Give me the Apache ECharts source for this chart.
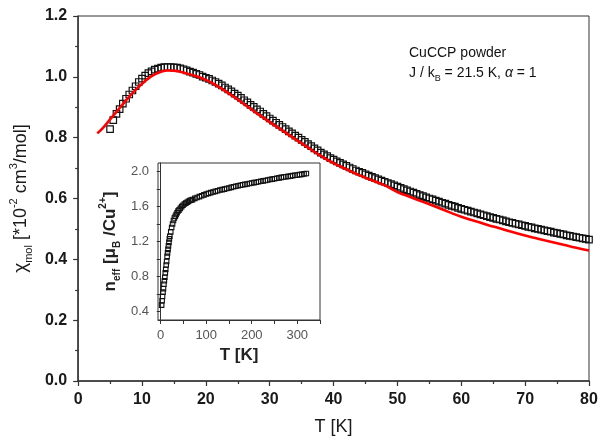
<!DOCTYPE html>
<html>
<head>
<meta charset="utf-8">
<script src="https://cdn.jsdelivr.net/npm/echarts@6/dist/echarts.min.js"></script>
<style>html,body{margin:0;padding:0;background:#fff;}#c{width:601px;height:441px;}</style>
</head>
<body>
<div id="c"></div>
<script>
// Main plot: measured chi_mol (squares)
var sqT = [5.0,5.5,6.0,6.5,7.0,7.5,8.0,8.5,9.0,9.5,10.0,10.5,11.0,11.5,12.0,12.5,13.0,13.5,14.0,14.5,15.0,15.5,16.0,16.5,17.0,17.5,18.0,18.5,19.0,19.5,20.0,20.5,21.0,21.5,22.0,22.5,23.0,23.5,24.0,24.5,25.0,25.5,26.0,26.5,27.0,27.5,28.0,28.5,29.0,29.5,30.0,30.5,31.0,31.5,32.0,32.5,33.0,33.5,34.0,34.5,35.0,35.5,36.0,36.5,37.0,37.5,38.0,38.5,39.0,39.5,40.0,40.5,41.0,41.5,42.0,42.5,43.0,43.5,44.0,44.5,45.0,45.5,46.0,46.5,47.0,47.5,48.0,48.5,49.0,49.5,50.0,50.5,51.0,51.5,52.0,52.5,53.0,53.5,54.0,54.5,55.0,55.5,56.0,56.5,57.0,57.5,58.0,58.5,59.0,59.5,60.0,60.5,61.0,61.5,62.0,62.5,63.0,63.5,64.0,64.5,65.0,65.5,66.0,66.5,67.0,67.5,68.0,68.5,69.0,69.5,70.0,70.5,71.0,71.5,72.0,72.5,73.0,73.5,74.0,74.5,75.0,75.5,76.0,76.5,77.0,77.5,78.0,78.5,79.0,79.5,80.0];
var sqChi = [0.828,0.858,0.878,0.894,0.912,0.928,0.942,0.955,0.969,0.983,0.994,1.004,1.012,1.018,1.024,1.027,1.030,1.032,1.032,1.032,1.031,1.030,1.028,1.025,1.021,1.017,1.014,1.010,1.006,1.001,0.997,0.993,0.988,0.983,0.978,0.972,0.965,0.959,0.952,0.945,0.938,0.931,0.923,0.916,0.908,0.901,0.893,0.886,0.878,0.871,0.863,0.856,0.849,0.842,0.835,0.828,0.821,0.814,0.807,0.800,0.793,0.786,0.779,0.772,0.765,0.758,0.751,0.745,0.739,0.733,0.728,0.722,0.717,0.712,0.707,0.702,0.697,0.692,0.688,0.684,0.679,0.675,0.671,0.667,0.663,0.659,0.655,0.651,0.647,0.643,0.639,0.635,0.631,0.627,0.623,0.619,0.615,0.611,0.608,0.604,0.600,0.597,0.593,0.590,0.586,0.583,0.579,0.576,0.573,0.569,0.566,0.563,0.560,0.557,0.554,0.551,0.548,0.545,0.542,0.539,0.536,0.533,0.531,0.528,0.525,0.522,0.520,0.517,0.515,0.512,0.510,0.507,0.505,0.502,0.500,0.498,0.495,0.493,0.491,0.488,0.486,0.484,0.482,0.479,0.477,0.475,0.473,0.471,0.469,0.467,0.465];

// Main plot: fit (red line)
var fitT = [3,4,5,6,7,8,9,10,11,12,13,14,15,16,18,20,22,24,26,28,30,32,34,36,38,40,42,44,46,48,50,52,54,56,58,60,62,64,66,68,70,72,74,76,78,80];
var fitChi = [0.814,0.835,0.860,0.885,0.910,0.935,0.957,0.977,0.995,1.008,1.017,1.021,1.020,1.017,1.005,0.990,0.967,0.940,0.910,0.880,0.851,0.823,0.795,0.767,0.740,0.716,0.696,0.677,0.660,0.643,0.621,0.605,0.589,0.573,0.556,0.540,0.527,0.514,0.502,0.490,0.478,0.468,0.458,0.448,0.438,0.429];

// Inset: n_eff vs T
var inT = [2,3,4,5,6,7,8,9,10,11,12,13,14,15,16,17,18,19,20,22,24,26,28,30,32,34,36,38,40,43,46,49,52,55,58,61,64,67,70,75,80,85,90,95,100,105,110,115,120,125,130,135,140,145,150,155,160,165,170,175,180,185,190,195,200,205,210,215,220,225,230,235,240,245,250,255,260,265,270,275,280,285,290,295,300,305,310,315,320];
var inN = [0.47,0.52,0.57,0.62,0.66,0.71,0.75,0.79,0.84,0.88,0.93,0.97,1.03,1.07,1.11,1.15,1.19,1.23,1.26,1.31,1.36,1.40,1.44,1.47,1.49,1.51,1.53,1.55,1.56,1.58,1.60,1.615,1.63,1.64,1.65,1.66,1.67,1.675,1.68,1.695,1.705,1.715,1.725,1.735,1.745,1.752,1.76,1.767,1.775,1.782,1.79,1.795,1.80,1.807,1.813,1.82,1.827,1.833,1.84,1.845,1.85,1.855,1.86,1.865,1.87,1.875,1.88,1.885,1.89,1.895,1.90,1.905,1.91,1.915,1.92,1.925,1.93,1.935,1.94,1.943,1.947,1.95,1.955,1.96,1.963,1.967,1.97,1.975,1.98];

// Tick labels
var mainXTicks = [0,10,20,30,40,50,60,70,80];
var mainYTicks = [0.0,0.2,0.4,0.6,0.8,1.0,1.2];
var insetXLabels = [0,100,200,300];
var insetXTicks = [0,50,100,150,200,250,300,350];
var insetYLabels = [0.4,0.8,1.2,1.6,2.0];
var insetYTicks = [0.4,0.6,0.8,1.0,1.2,1.4,1.6,1.8,2.0];

function zip(a,b){var r=[];for(var i=0;i<a.length;i++){r.push([a[i],b[i]]);}return r;}

var FF = 'Liberation Sans, Arial, sans-serif';
var chart = echarts.init(document.getElementById('c'), null, {renderer:'canvas'});
var option = {
  backgroundColor:'#fff',
  animation:false,
  grid:[
    {left:78, top:16, right:12, bottom:58, show:true, borderColor:'#333', borderWidth:1, backgroundColor:'transparent', containLabel:false},
    {left:158, top:163, width:162, height:157, show:true, borderColor:'#333', borderWidth:1, backgroundColor:'#fff', containLabel:false, z:3}
  ],
  xAxis:[
    {gridIndex:0, type:'value', min:mainXTicks[0], max:mainXTicks[mainXTicks.length-1], interval:10,
     splitLine:{show:false},
     axisLine:{lineStyle:{color:'#333', width:1.5}},
     axisTick:{length:5, lineStyle:{color:'#333', width:1.2}},
     minorTick:{show:true, splitNumber:2, length:3, lineStyle:{color:'#333', width:1.2}},
     axisLabel:{fontFamily:FF, fontSize:16, fontWeight:'bold', color:'#1a1a1a', margin:11},
     name:'T [K]', nameLocation:'middle', nameGap:37,
     nameTextStyle:{fontFamily:FF, fontSize:18, color:'#1a1a1a'}
    },
    {gridIndex:1, type:'value', min:-6, max:350, z:4,
     splitLine:{show:false},
     axisLine:{lineStyle:{color:'#333', width:1}},
     axisTick:{length:4, customValues:insetXTicks, lineStyle:{color:'#333'}},
     axisLabel:{customValues:insetXLabels, fontFamily:FF, fontSize:13, color:'#555', margin:9},
     name:'T [K]', nameLocation:'middle', nameGap:27,
     nameTextStyle:{fontFamily:FF, fontSize:17, fontWeight:'bold', color:'#222'}
    }
  ],
  yAxis:[
    {gridIndex:0, type:'value', min:mainYTicks[0], max:mainYTicks[mainYTicks.length-1], interval:0.2,
     splitLine:{show:false},
     axisLine:{show:true, lineStyle:{color:'#333', width:1.5}},
     axisTick:{show:true, length:5, lineStyle:{color:'#333', width:1.2}},
     minorTick:{show:true, splitNumber:2, length:3, lineStyle:{color:'#333', width:1.2}},
     axisLabel:{fontFamily:FF, fontSize:16, fontWeight:'bold', color:'#1a1a1a', margin:11,
       formatter:function(v){return v.toFixed(1);}},
     name:'{g|χ}{sub|mol}{n| [*10}{sup|-2}{n| cm}{sup|3}{n|/mol]}', nameLocation:'middle', nameGap:42, nameRotate:90,
     nameTextStyle:{fontFamily:FF, fontSize:18, color:'#1a1a1a',
       rich:{
         g:{fontFamily:FF, fontSize:19, color:'#1a1a1a', lineHeight:26, verticalAlign:'middle'},
         n:{fontFamily:FF, fontSize:18, color:'#1a1a1a', lineHeight:26, verticalAlign:'middle'},
         sub:{fontFamily:FF, fontSize:11, color:'#1a1a1a', verticalAlign:'bottom', lineHeight:26},
         sup:{fontFamily:FF, fontSize:11, color:'#1a1a1a', verticalAlign:'top', lineHeight:26}
       }}
    },
    {gridIndex:1, type:'value', min:0.3, max:2.1, z:4,
     splitLine:{show:false},
     axisLine:{show:true, lineStyle:{color:'#333', width:1}},
     axisTick:{show:true, length:4, customValues:insetYTicks, lineStyle:{color:'#333'}},
     axisLabel:{customValues:insetYLabels, fontFamily:FF, fontSize:13, color:'#555', margin:9,
       formatter:function(v){return v.toFixed(1);}},
     name:'n{sub|eff} [μ{sub|B} /Cu{sup|2+}]', nameLocation:'middle', nameGap:36, nameRotate:90,
     nameTextStyle:{fontFamily:FF, fontSize:17, fontWeight:'bold', color:'#222',
       rich:{
         sub:{fontFamily:FF, fontSize:10, color:'#222', verticalAlign:'bottom', lineHeight:24},
         sup:{fontFamily:FF, fontSize:10, color:'#222', verticalAlign:'top', lineHeight:24}
       }}
    }
  ],
  series:[
    {type:'scatter', xAxisIndex:0, yAxisIndex:0, data:zip(sqT, sqChi), symbol:'rect', symbolSize:6.5,
     itemStyle:{color:'rgba(255,255,255,0)', borderColor:'#111', borderWidth:1.2, opacity:1}, z:2},
    {type:'line', xAxisIndex:0, yAxisIndex:0, data:zip(fitT, fitChi), smooth:true, showSymbol:false,
     lineStyle:{color:'#ff0000', width:2.6}, z:3},
    {type:'scatter', xAxisIndex:1, yAxisIndex:1, data:zip(inT, inN), symbol:'rect', symbolSize:4.5,
     itemStyle:{color:'rgba(255,255,255,0)', borderColor:'#111', borderWidth:1.1, opacity:1}, z:5}
  ],
  graphic:[
    {type:'text', left:409, top:46, z:10,
     style:{
       text:'{a|CuCCP powder}\n{a|J / k}{s|B}{a| = 21.5 K, }{i|α}{a| = 1}',
       fontFamily:FF, fontSize:14, fill:'#111',
       rich:{
         a:{fontFamily:FF, fontSize:14, fill:'#111', lineHeight:20},
         i:{fontFamily:FF, fontSize:14, fontStyle:'italic', fill:'#111', lineHeight:20},
         s:{fontFamily:FF, fontSize:9, fill:'#111', verticalAlign:'bottom', lineHeight:20}
       }
     }}
  ]
};
chart.setOption(option);
</script>
</body>
</html>
